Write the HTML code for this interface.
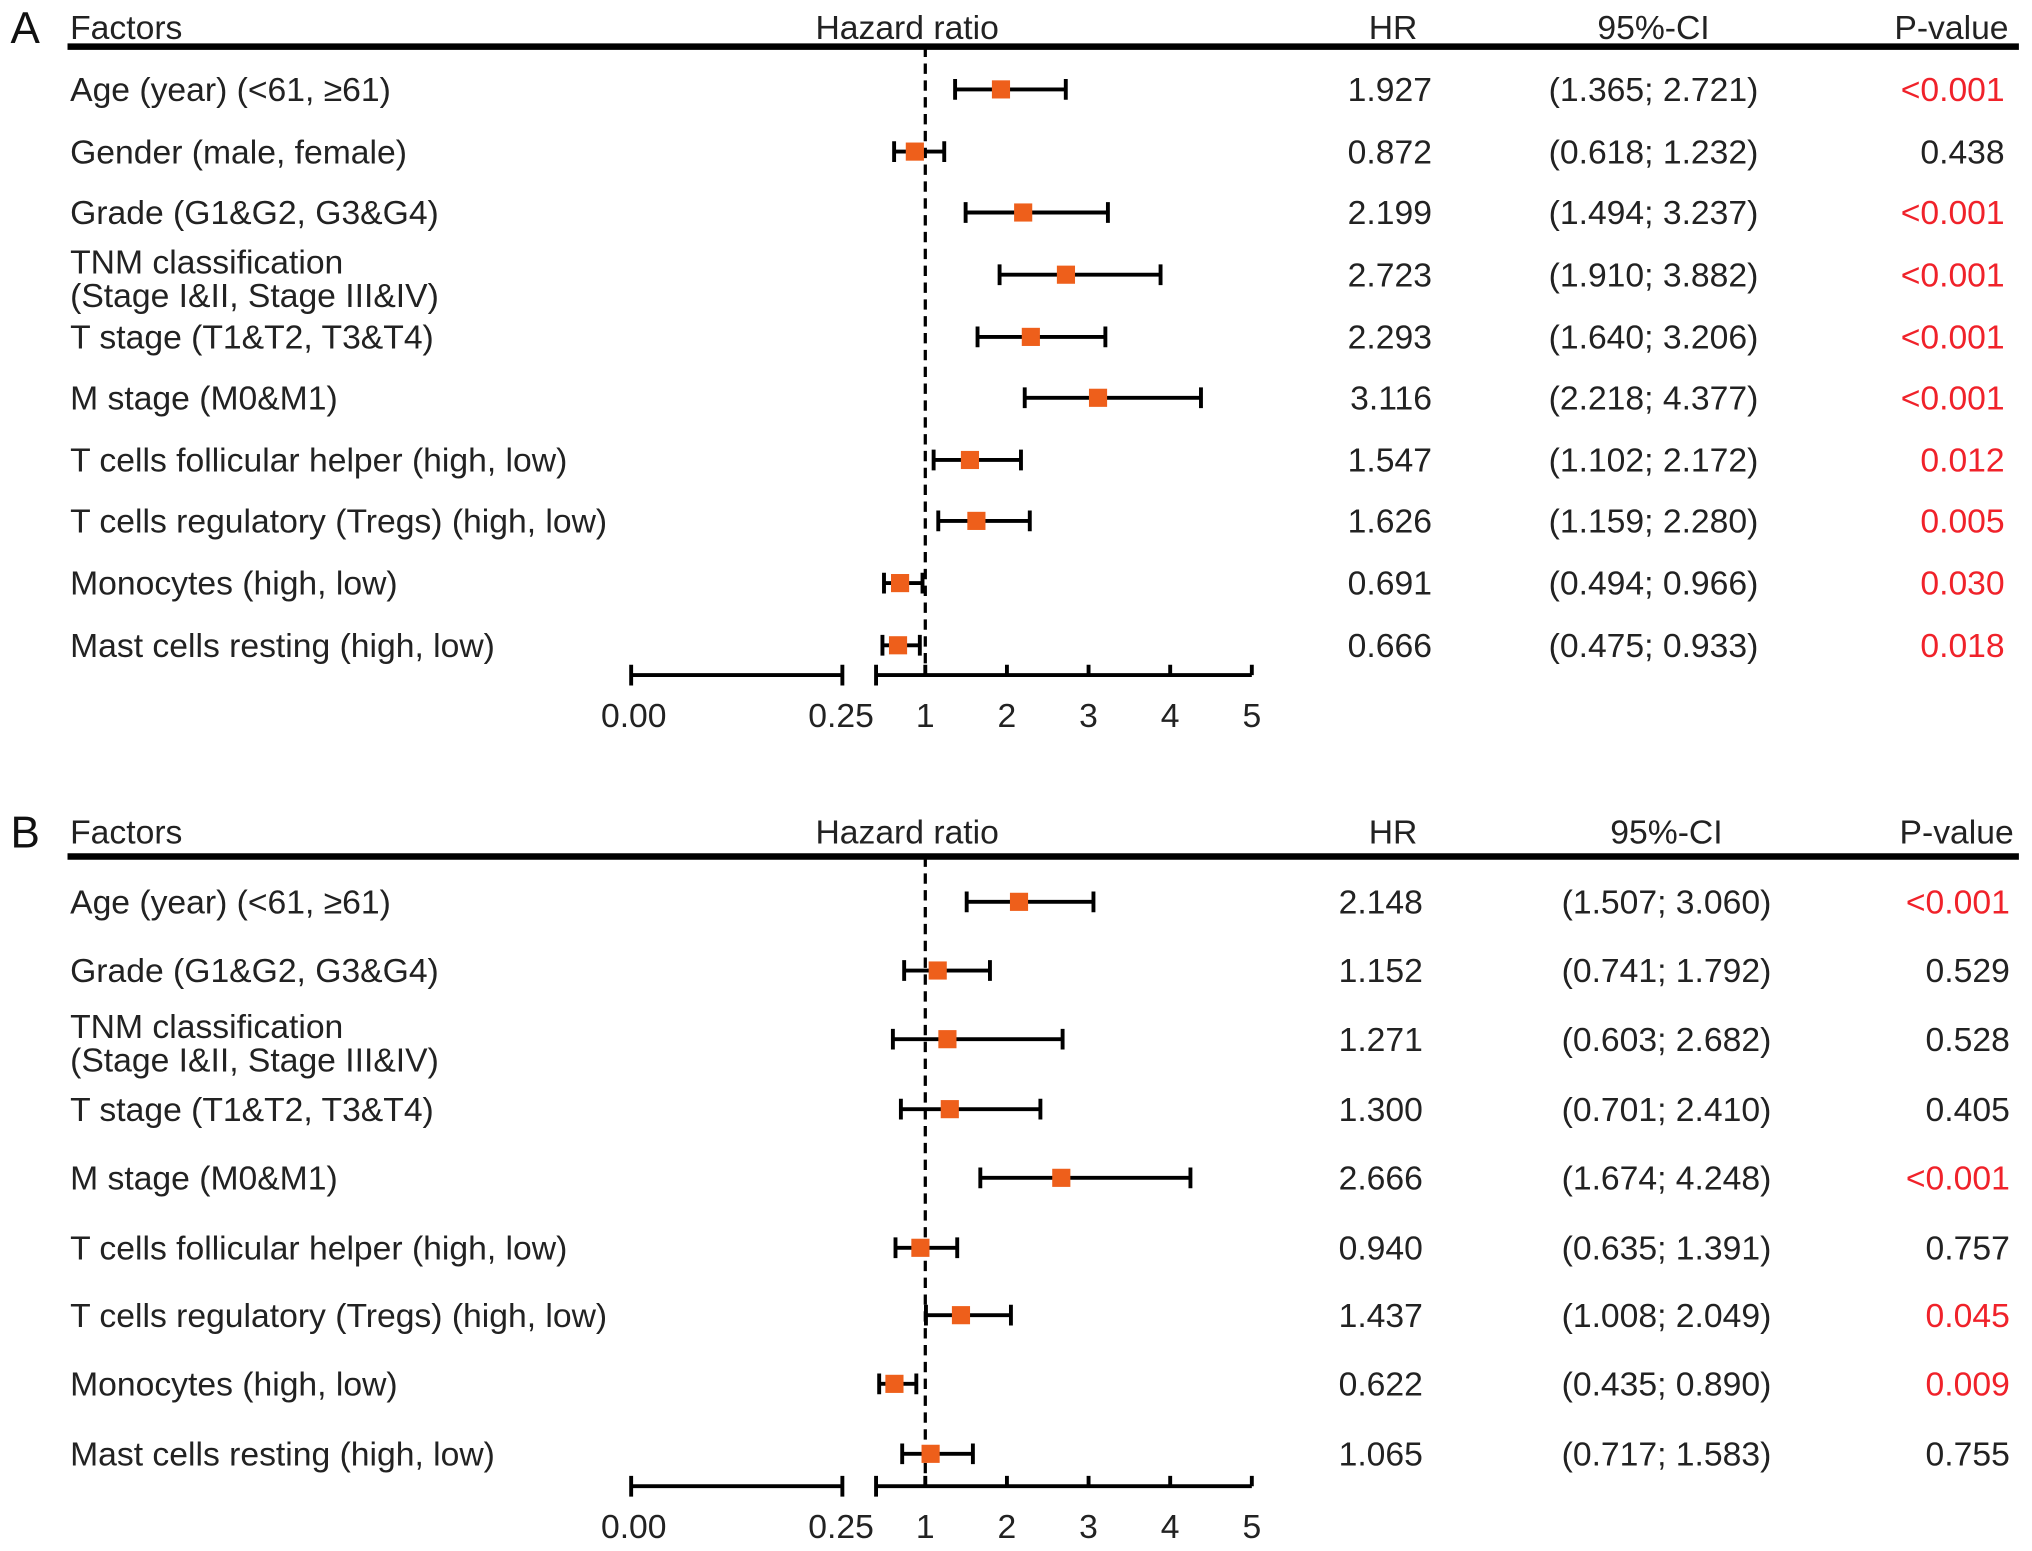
<!DOCTYPE html>
<html><head><meta charset="utf-8"><style>
html,body{margin:0;padding:0;background:#fff;}
svg{display:block;font-family:"Liberation Sans",sans-serif;}
</style></head><body>
<svg id="chart" width="2032" height="1551" viewBox="0 0 1568 1197" xmlns="http://www.w3.org/2000/svg"></svg>
<script>
const factorsA = ["Age (year) (<61, \u226561)","Gender (male, female)","Grade (G1&G2, G3&G4)","TNM classification|(Stage I&II, Stage III&IV)","T stage (T1&T2, T3&T4)","M stage (M0&M1)","T cells follicular helper (high, low)","T cells regulatory (Tregs) (high, low)","Monocytes (high, low)","Mast cells resting (high, low)"];
const hrA = [1.927,0.872,2.199,2.723,2.293,3.116,1.547,1.626,0.691,0.666];
const loA = [1.365,0.618,1.494,1.910,1.640,2.218,1.102,1.159,0.494,0.475];
const hiA = [2.721,1.232,3.237,3.882,3.206,4.377,2.172,2.280,0.966,0.933];
const pA = ["<0.001","0.438","<0.001","<0.001","<0.001","<0.001","0.012","0.005","0.030","0.018"];
const factorsB = ["Age (year) (<61, \u226561)","Grade (G1&G2, G3&G4)","TNM classification|(Stage I&II, Stage III&IV)","T stage (T1&T2, T3&T4)","M stage (M0&M1)","T cells follicular helper (high, low)","T cells regulatory (Tregs) (high, low)","Monocytes (high, low)","Mast cells resting (high, low)"];
const hrB = [2.148,1.152,1.271,1.300,2.666,0.940,1.437,0.622,1.065];
const loB = [1.507,0.741,0.603,0.701,1.674,0.635,1.008,0.435,0.717];
const hiB = [3.060,1.792,2.682,2.410,4.248,1.391,2.049,0.890,1.583];
const pB = ["<0.001","0.529","0.528","0.405","<0.001","0.757","0.045","0.009","0.755"];
const tickLabels = ["0.00","0.25","1","2","3","4","5"];
const tickVals = [1,2,3,4,5];

const svg = document.getElementById('chart');
const NS = "http://www.w3.org/2000/svg";
const FS = 26;
function mk(tag, attrs, parent){const e=document.createElementNS(NS,tag);for(const k in attrs)e.setAttribute(k,attrs[k]);(parent||svg).appendChild(e);return e;}
function txt(s,x,y,anchor,fill,size,parent){const t=mk('text',{x:x,y:y,'text-anchor':anchor||'start',fill:fill||'#222','font-size':size||FS},parent);t.textContent=s;return t;}
const xScale = hr => 714 + (hr-1)*63;

function panel(cfg){
  const g = mk('g',{});
  
  
  const L = txt(cfg.letter, 8, cfg.headY+12, 'start', '#111', 34, g);
  
  
  [["Factors",54,'start'],["Hazard ratio",700,'middle'],["HR",cfg.hrHeadX,'middle'],["95%-CI",cfg.ciX,'middle'],["P-value",cfg.pX+3,'end']].forEach(h=>{
    const t = txt(h[0],h[1],cfg.headY+9,h[2],'#222',FS,g);
    
    
  });
  const hl = mk('line',{x1:52,x2:1558,y1:cfg.lineY,y2:cfg.lineY,stroke:'#000','stroke-width':5},g);
  
  
  const dl = mk('line',{x1:xScale(1),x2:xScale(1),y1:cfg.lineY,y2:cfg.axisY-8,stroke:'#000','stroke-width':2.5,'stroke-dasharray':'8,5'},g);
  
  
  cfg.factors.forEach((f,i)=>{
    const y = cfg.rows[i];
    const parts = f.split('|');
    if(parts.length>1){
      const t1 = txt(parts[0],54,y-1,'start','#222',FS,g);
      
      
      const t2 = txt(parts[1],54,y+25,'start','#222',FS,g);
      
      
    } else {
      const t = txt(f,54,y+9,'start','#222',FS,g);
      
      
    }
    const x1 = xScale(cfg.lo[i]), x2 = xScale(cfg.hi[i]), xm = xScale(cfg.hr[i]);
    const ci = mk('path',{d:`M${x1},${y}H${x2}M${x1},${y-8}V${y+8}M${x2},${y-8}V${y+8}`,stroke:'#000','stroke-width':3,fill:'none'},g);
    
    
    const sq = mk('rect',{x:xm-7,y:y-7,width:14,height:14,fill:'#EE5F1B'},g);
    
    
    const hv = txt(cfg.hr[i].toFixed(3),cfg.hrX,y+9,'end','#222',FS,g);
    
    
    const cv = txt('('+cfg.lo[i].toFixed(3)+'; '+cfg.hi[i].toFixed(3)+')',cfg.ciX,y+9,'middle','#222',FS,g);
    
    
    const p = cfg.p[i];
    const sig = p.startsWith('<') || parseFloat(p)<0.05;
    const pv = txt(p,cfg.pX,y+9,'end',sig?'#F0222A':'#222',FS,g);
    
    
  });
  const ay = cfg.axisY;
  const ax = mk('path',{d:`M487,${ay}H650M487,${ay-8}V${ay+8}M650,${ay-8}V${ay+8}M676,${ay}H${xScale(5)}M676,${ay-8}V${ay+8}`+tickVals.map(v=>`M${xScale(v)},${ay-8}V${ay}`).join(''),stroke:'#000','stroke-width':3,fill:'none'},g);
  
  
  const tx = [489,649].concat(tickVals.map(xScale));
  tickLabels.forEach((l,i)=>{
    const t = txt(l,tx[i],ay+40,'middle','#222',FS,g);
    
    
  });
}

panel({name:'panel-a',letter:'A',headY:21,lineY:36,rows:[69,117,164,212,260,307,355,402,450,498],axisY:521,
  factors:factorsA,hr:hrA,lo:loA,hi:hiA,p:pA,hrHeadX:1075,hrX:1105,ciX:1276,pX:1547});
panel({name:'panel-b',letter:'B',headY:642,lineY:661,rows:[696,749,802,856,909,963,1015,1068,1122],axisY:1147,
  factors:factorsB,hr:hrB,lo:loB,hi:hiB,p:pB,hrHeadX:1075,hrX:1098,ciX:1286,pX:1551});
</script>
</body></html>
